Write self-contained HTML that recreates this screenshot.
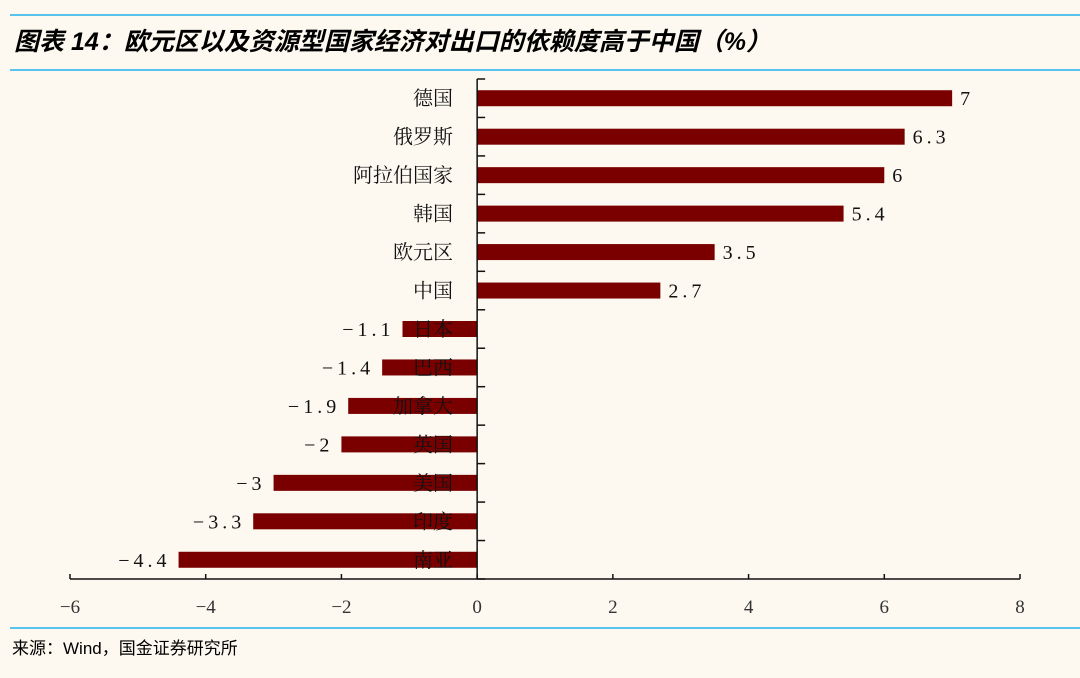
<!DOCTYPE html>
<html><head><meta charset="utf-8"><style>
body{margin:0;background:#fdf9f0;}
svg text{font-family:"Liberation Serif","Noto Serif CJK SC",serif;}
</style></head><body>
<svg width="1080" height="673" viewBox="0 0 1080 673" xmlns="http://www.w3.org/2000/svg">
<rect width="1080" height="673" fill="#fdf9f0"/>
<line x1="10" y1="15" x2="1080" y2="15" stroke="#1fb2ee" stroke-width="1.5"/>
<line x1="10" y1="70" x2="1080" y2="70" stroke="#1fb2ee" stroke-width="1.5"/>
<text x="14" y="50" font-size="25" font-style="italic" font-weight="bold" style="font-family:'Liberation Sans','Noto Sans CJK SC',sans-serif">图表 14：欧元区以及资源型国家经济对出口的依赖度高于中国（%）</text>
<line x1="10" y1="628" x2="1080" y2="628" stroke="#1fb2ee" stroke-width="1.5"/>
<text x="12" y="654" font-size="17" style="font-family:'Liberation Sans','Noto Sans CJK SC',sans-serif">来源：Wind，国金证券研究所</text>
<g id="plot"></g>
</svg>
<script>
const categories=["德国","俄罗斯","阿拉伯国家","韩国","欧元区","中国","日本","巴西","加拿大","英国","美国","印度","南亚"];
const values=[7,6.3,6,5.4,3.5,2.7,-1.1,-1.4,-1.9,-2,-3,-3.3,-4.4];
const valueLabels=["7","6.3","6","5.4","3.5","2.7","-1.1","-1.4","-1.9","-2","-3","-3.3","-4.4"];
const xTicks=[-6,-4,-2,0,2,4,6,8];
const NS="http://www.w3.org/2000/svg";
const g=document.getElementById('plot');
const x0=70,x1=1020,xmin=-6,xmax=8,plotTop=79,plotBottom=579;
const xs=v=>x0+(v-xmin)/(xmax-xmin)*(x1-x0);
const band=(plotBottom-plotTop)/categories.length;
function mk(t,a){const e=document.createElementNS(NS,t);for(const k in a)e.setAttribute(k,a[k]);g.appendChild(e);return e;}
categories.forEach((c,i)=>{
  const cy=plotTop+band*(i+0.5),v=values[i];
  const b=mk('rect',{x:Math.min(xs(0),xs(v)),y:cy-8,width:Math.abs(xs(v)-xs(0)),height:16,fill:'#7a0000'});
  
  
  const l=mk('text',{x:453,y:cy+7,'font-size':20,'text-anchor':'end',fill:'#111'});
  l.textContent=c;
  
  
  const pos=v>=0;
  const vl=mk('text',{x:pos?xs(v)+8:xs(v)-8,y:cy+7,'font-size':20,'text-anchor':pos?'start':'end','letter-spacing':'4',fill:'#111'});
  vl.textContent=valueLabels[i].replace('-','−');
  
  
});
for(let i=0;i<=categories.length;i++){
  const y=plotTop+band*i;
  const t=mk('line',{x1:xs(0),x2:xs(0)+8,y1:y,y2:y,stroke:'#111','stroke-width':1.5});
  
  
}
const ya=mk('line',{x1:xs(0),x2:xs(0),y1:plotTop,y2:plotBottom,stroke:'#111','stroke-width':1.5});


const xa=mk('line',{x1:x0,x2:x1,y1:plotBottom,y2:plotBottom,stroke:'#111','stroke-width':1.5});


xTicks.forEach(v=>{
  const t=mk('line',{x1:xs(v),x2:xs(v),y1:plotBottom,y2:plotBottom-5,stroke:'#111','stroke-width':1.5});
  
  
  const l=mk('text',{x:xs(v),y:plotBottom+34,'font-size':19,'text-anchor':'middle',fill:'#333'});
  l.textContent=String(v).replace('-','−');
  
  
});
</script>
</body></html>
